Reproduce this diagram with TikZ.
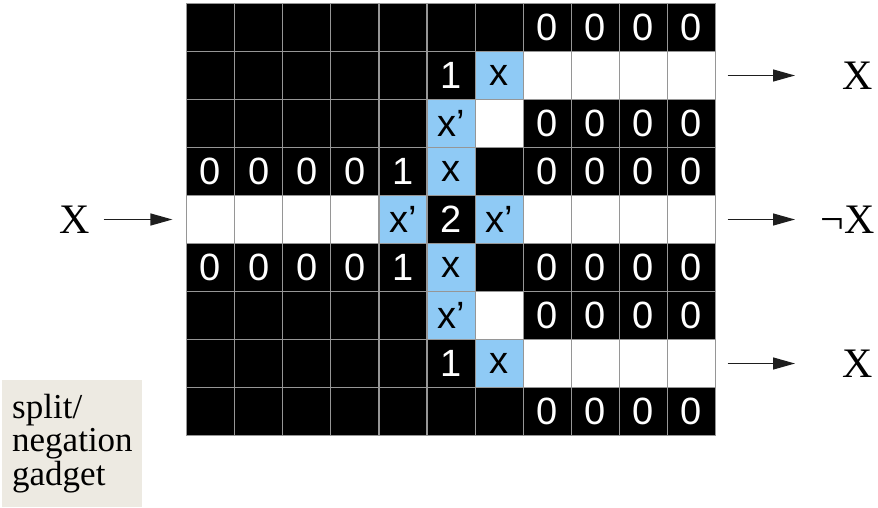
\documentclass[tikz,border=0pt]{standalone}
\usepackage{fontspec}
\setmainfont{Liberation Serif}
\newfontfamily\cellfont{Liberation Sans}
\usetikzlibrary{arrows.meta}
\definecolor{cellblue}{RGB}{143,202,245}
\definecolor{gridgray}{RGB}{150,150,150}
\definecolor{gadgetbg}{RGB}{237,234,226}
\definecolor{arrowgray}{RGB}{30,30,30}
\begin{document}
\begin{tikzpicture}[x=1pt,y=-1pt,
  cell/.style={draw=gridgray, line width=1.2pt, minimum width=48.1pt, minimum height=48pt,
    inner sep=0pt, font=\cellfont\fontsize{38}{38}\selectfont, anchor=center},
  kB/.style={fill=black},
  kW/.style={fill=white},
  kZ/.style={fill=black, text=white},
  kO/.style={fill=black, text=white},
  kT/.style={fill=black, text=white},
  kX/.style={fill=cellblue, text=black},
  kP/.style={fill=cellblue, text=black},
  cellsty/.code={\edef\tmpk{k#1}\expandafter\pgfkeysalso\expandafter{\tmpk}},
  lbl/.style={font=\fontsize{42}{42}\selectfont, inner sep=3.3pt},
  arr/.style={draw=arrowgray, line width=1.3pt, -{Triangle[length=22pt,width=12pt]}},
  gadgetbox/.style={fill=gadgetbg, draw=none, minimum width=140pt, minimum height=127pt, inner sep=0pt},
  gadgettext/.style={font=\fontsize{35}{33.5}\selectfont, align=left, inner sep=0pt}
]
\useasboundingbox[fill=white] (0,0) rectangle (878,507);

\def\txtB{}\def\txtW{}\def\txtZ{0}\def\txtO{1}\def\txtT{2}\def\txtX{x}\def\txtP{x’}
\foreach \row [count=\r from 0] in {
  {B,B,B,B,B,B,B,Z,Z,Z,Z},
  {B,B,B,B,B,O,X,W,W,W,W},
  {B,B,B,B,B,P,W,Z,Z,Z,Z},
  {Z,Z,Z,Z,O,X,B,Z,Z,Z,Z},
  {W,W,W,W,P,T,P,W,W,W,W},
  {Z,Z,Z,Z,O,X,B,Z,Z,Z,Z},
  {B,B,B,B,B,P,W,Z,Z,Z,Z},
  {B,B,B,B,B,O,X,W,W,W,W},
  {B,B,B,B,B,B,B,Z,Z,Z,Z}} {
  \foreach \c [count=\k from 0] in \row {
    \node[cell, cellsty=\c] (c-\r-\k) at ({186.5+48.1*(\k+0.5)}, {3.5+48*(\r+0.5)}) {\csname txt\c\endcsname};
  }
}

% input
\node[lbl] (xin) at (75,219.5) {X};
\draw[arr, shorten <=10pt, shorten >=13.5pt] (xin) -- (c-4-0);

% outputs
\coordinate (t1) at (795,75.5);
\coordinate (t2) at (795,219.5);
\coordinate (t3) at (795,363.5);
\draw[arr, shorten <=11.5pt] (c-1-10) -- (t1);
\draw[arr, shorten <=11.5pt] (c-4-10) -- (t2);
\draw[arr, shorten <=11.5pt] (c-7-10) -- (t3);
\node[lbl] (xo1) at (858,75.5) {X};
\node[lbl, anchor=east] (xo2) at (878,219.5) {¬X};
\node[lbl] (xo3) at (858,363.5) {X};

% gadget label
\node[gadgetbox, anchor=south west] (gbox) at (2,507) {};
\node[gadgettext, anchor=base west] (gtext) at (12,485) {split/\\negation\\gadget};
\end{tikzpicture}
\end{document}
